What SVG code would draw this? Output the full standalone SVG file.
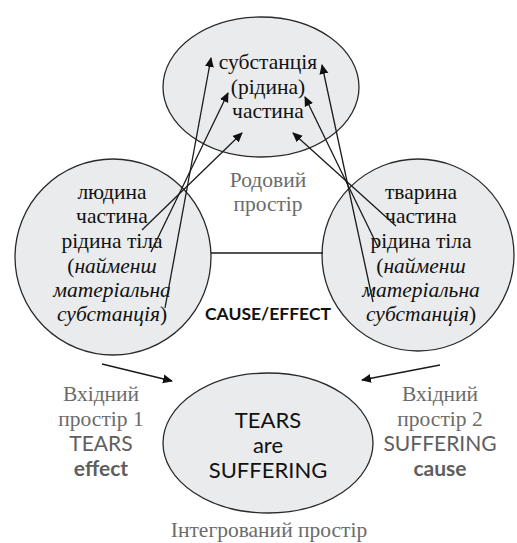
<svg xmlns="http://www.w3.org/2000/svg" width="517" height="543" viewBox="0 0 517 543">
<style>
.node{fill:#e9ebec;stroke:#2a2a2a;stroke-width:1.3}
.s{font-family:"Liberation Serif","DejaVu Serif","Times New Roman",serif;font-size:21.5px;fill:#111;text-anchor:middle}
.g{font-family:"Liberation Serif","DejaVu Serif","Times New Roman",serif;font-size:21.5px;fill:#6b6b6b;text-anchor:middle}
.l{font-family:Lato,"Liberation Sans",sans-serif;font-size:21px;fill:#5e5e5e;text-anchor:middle}
.lb{font-family:Lato,"Liberation Sans",sans-serif;font-size:22px;fill:#111;text-anchor:middle}
.i{font-style:italic}
.conn{stroke:#1a1a1a;stroke-width:1.3;fill:none}
</style>
<defs>
<marker id="ah" viewBox="0 0 10 10" refX="9" refY="5" markerWidth="10" markerHeight="10" markerUnits="userSpaceOnUse" orient="auto">
<path d="M0,0.5 L10,5 L0,9.5 z" fill="#111"/>
</marker>
</defs>
<g id="generic">
<ellipse class="node" cx="261" cy="87" rx="98" ry="70"/>
<text class="s" x="268" y="69">субстанція</text>
<text class="s" x="268" y="94">(рідина)</text>
<text class="s" x="268" y="118">частина</text>
<text class="g" x="268" y="187">Родовий</text>
<text class="g" x="268" y="211">простір</text>
</g>
<g id="input1">
<circle class="node" cx="113" cy="257" r="98"/>
<text class="s" x="112" y="199">людина</text>
<text class="s" x="112" y="223">частина</text>
<text class="s" x="112" y="248">рідина тіла</text>
<text class="s" x="112" y="273">(<tspan class="i">найменш</tspan></text>
<text class="s i" x="112" y="297">матеріальна</text>
<text class="s" x="112" y="321"><tspan class="i">субстанція</tspan>)</text>
<text class="g" x="101" y="401">Вхідний</text>
<text class="g" x="101" y="426">простір 1</text>
<text class="l" x="101" y="451">TEARS</text>
<text class="l" x="101" y="476" font-weight="bold">effect</text>
</g>
<g id="input2">
<circle class="node" cx="418" cy="255" r="96"/>
<text class="s" x="421" y="199">тварина</text>
<text class="s" x="421" y="223">частина</text>
<text class="s" x="421" y="248">рідина тіла</text>
<text class="s" x="421" y="273">(<tspan class="i">найменш</tspan></text>
<text class="s i" x="421" y="297">матеріальна</text>
<text class="s" x="421" y="321"><tspan class="i">субстанція</tspan>)</text>
<text class="g" x="440" y="401">Вхідний</text>
<text class="g" x="440" y="426">простір 2</text>
<text class="l" x="440" y="451">SUFFERING</text>
<text class="l" x="440" y="476" font-weight="bold">cause</text>
</g>
<g id="blend">
<ellipse class="node" cx="268" cy="443" rx="105" ry="70"/>
<text class="lb" x="268" y="428">TEARS</text>
<text class="lb" x="268" y="453">are</text>
<text class="lb" x="268" y="478">SUFFERING</text>
<text class="g" x="269" y="537">Інтегрований простір</text>
</g>
<g id="connectors">
<line class="conn" x1="211" y1="253" x2="323" y2="253"/>
<text x="268" y="320" font-family="Lato,'Liberation Sans',sans-serif" font-size="17.5" font-weight="bold" fill="#111" text-anchor="middle">CAUSE/EFFECT</text>
<line class="conn" x1="142" y1="230" x2="242" y2="133" marker-end="url(#ah)"/>
<line class="conn" x1="151" y1="252" x2="228" y2="93" marker-end="url(#ah)"/>
<line class="conn" x1="165" y1="308" x2="211" y2="58" marker-end="url(#ah)"/>
<line class="conn" x1="396" y1="226" x2="293" y2="133" marker-end="url(#ah)"/>
<line class="conn" x1="378" y1="247" x2="305" y2="97" marker-end="url(#ah)"/>
<line class="conn" x1="373" y1="302" x2="322" y2="65" marker-end="url(#ah)"/>
<line class="conn" x1="102" y1="364" x2="172" y2="381" marker-end="url(#ah)"/>
<line class="conn" x1="440" y1="365" x2="362" y2="380" marker-end="url(#ah)"/>
</g>
</svg>
